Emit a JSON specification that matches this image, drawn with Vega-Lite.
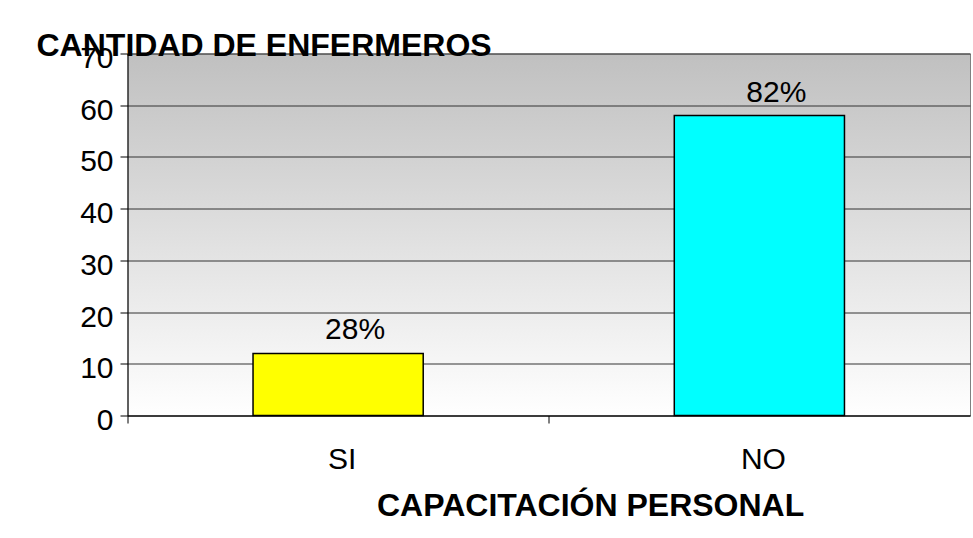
{
  "$schema": "https://vega.github.io/schema/vega-lite/v6.json",
  "width": 842.5,
  "height": 362,
  "autosize": {"type": "none"},
  "padding": {"left": 127.5, "top": 53.5, "right": 3, "bottom": 122.5},
  "background": "#ffffff",
  "config": {
    "font": "Liberation Sans",
    "view": {
      "stroke": "#808080",
      "strokeWidth": 1,
      "fill": {
        "gradient": "linear",
        "x1": 0, "y1": 0, "x2": 0, "y2": 1,
        "stops": [
          {"offset": 0, "color": "#c0c0c0"},
          {"offset": 1, "color": "#ffffff"}
        ]
      }
    }
  },
  "data": {
    "values": [
      {"cat": "SI", "value": 12, "label": "28%"},
      {"cat": "NO", "value": 58, "label": "82%"}
    ]
  },
  "encoding": {
    "x": {
      "field": "cat",
      "type": "nominal",
      "sort": ["SI", "NO"],
      "scale": {"paddingInner": 0, "paddingOuter": 0},
      "axis": {
        "title": "CAPACITACIÓN PERSONAL",
        "titleFont": "Liberation Sans",
        "titleFontSize": 32,
        "titleFontWeight": "bold",
        "titleColor": "#000000",
        "titleAlign": "left",
        "titleAnchor": null,
        "titleX": 249,
        "titleY": 99.5,
        "titleBaseline": "alphabetic",
        "labelAngle": 0,
        "labelFont": "Liberation Sans",
        "labelFontSize": 30,
        "labelColor": "#000000",
        "labelBaseline": "alphabetic",
        "labelPadding": 45,
        "labelOffset": 4,
        "tickSize": 7.5,
        "tickColor": "#000000",
        "domainColor": "#000000",
        "bandPosition": 0,
        "grid": false
      }
    },
    "y": {
      "field": "value",
      "type": "quantitative",
      "scale": {"domain": [0, 70], "nice": false},
      "axis": {
        "values": [0, 10, 20, 30, 40, 50, 60, 70],
        "title": "CANTIDAD DE ENFERMEROS",
        "titleFont": "Liberation Sans",
        "titleFontSize": 32,
        "titleFontWeight": "bold",
        "titleColor": "#000000",
        "titleAngle": 0,
        "titleAlign": "left",
        "titleAnchor": null,
        "titleBaseline": "alphabetic",
        "titleX": -91.5,
        "titleY": 1.5,
        "labelFont": "Liberation Sans",
        "labelFontSize": 30,
        "labelColor": "#000000",
        "labelBaseline": "alphabetic",
        "labelOffset": 14,
        "labelPadding": 7,
        "tickSize": 7.5,
        "tickColor": "#000000",
        "domainColor": "#000000",
        "grid": true,
        "gridColor": "#333333",
        "gridOpacity": 1
      }
    }
  },
  "layer": [
    {
      "mark": {"type": "bar", "width": {"band": 0.404}, "stroke": "#000000", "strokeWidth": 1.5},
      "encoding": {
        "color": {
          "field": "cat",
          "type": "nominal",
          "scale": {"domain": ["SI", "NO"], "range": ["#ffff00", "#00ffff"]},
          "legend": null
        }
      }
    },
    {
      "mark": {"type": "text", "font": "Liberation Sans", "fontSize": 30, "color": "#000000", "baseline": "alphabetic", "dy": -14, "dx": 17},
      "encoding": {
        "text": {"field": "label"}
      }
    }
  ]
}
